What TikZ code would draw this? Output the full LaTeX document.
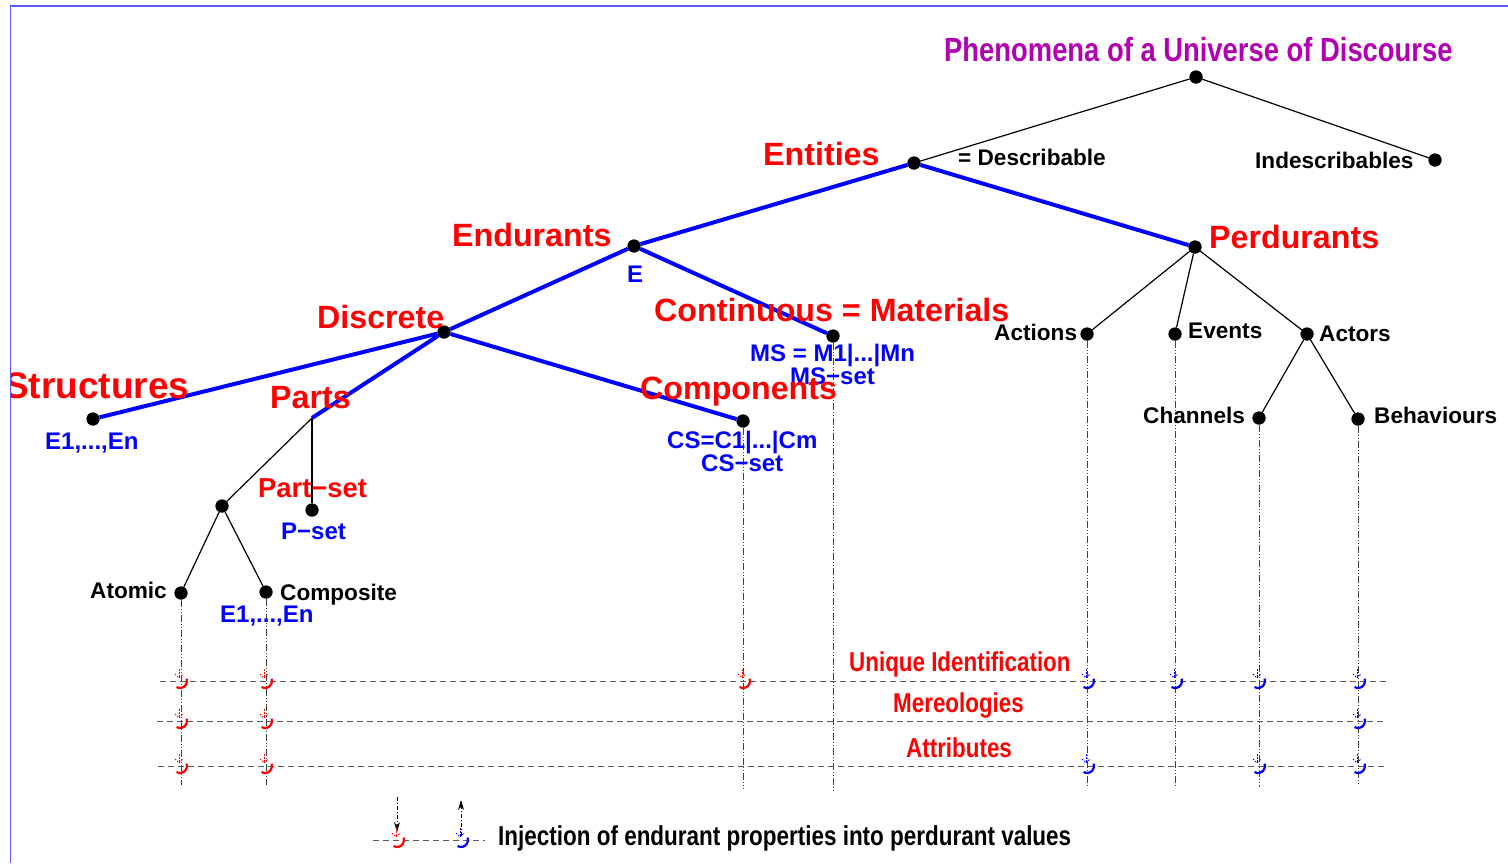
\documentclass[tikz,border=0pt]{standalone}
\usepackage{fontspec}
\setmainfont{Liberation Sans}
\newfontfamily\hb{Liberation Sans Bold}
\newfontfamily\hnb{Liberation Sans Bold}[FakeStretch=0.82]
\usetikzlibrary{arrows.meta}
\definecolor{phmag}{RGB}{176,0,176}
\definecolor{framecol}{RGB}{90,90,255}
\begin{document}
\begin{tikzpicture}[x=1pt,y=-1pt,
  dot/.style={circle,fill=black,inner sep=0pt,minimum size=13pt},
  lbl/.style={anchor=base west,inner sep=0pt},
  title/.style={lbl,text=phmag,font=\hnb\fontsize{33.4}{38}\selectfont},
  bigred/.style={lbl,text=red,font=\hb\fontsize{32.2}{36}\selectfont},
  midred/.style={lbl,text=red,font=\hnb\fontsize{27.3}{30}\selectfont},
  blk/.style={lbl,text=black,font=\hb\fontsize{22.6}{26}\selectfont},
  blu/.style={lbl,text=blue,font=\hb\fontsize{24}{28}\selectfont},
  legendtxt/.style={lbl,text=black,font=\hnb\fontsize{27.4}{30}\selectfont},
  tree/.style={line width=1.2pt},
  spine/.style={blue,line width=4pt},
  drop/.style={line width=0.9pt,gray!50!black,dash pattern=on 7pt off 2pt on 1pt off 2pt on 1pt off 2pt},
  level/.style={line width=1pt,gray!70!black,dash pattern=on 6pt off 4pt},
  inj/.pic={
    \draw[line width=2.2pt] (-3.5,6.06) arc[start angle=120,end angle=-20,radius=7];
    \draw[line width=1pt,dash pattern=on 1.5pt off 1.5pt] (-1,-12) -- (-1,-3);
    \draw[line width=1pt,dash pattern=on 1.5pt off 1.5pt] (-5,-7) -- (-1,-3) -- (3,-7);
  }
]
\useasboundingbox (0,0) rectangle (1508,863);

\begin{scope}
\clip (10.5,6) rectangle (1508,863);

% tree nodes
\node[dot] (root)   at (1196,77)  {};
\node[dot] (ent)    at (914,163)  {};
\node[dot] (indesc) at (1435,160) {};
\node[dot] (endu)   at (634,246)  {};
\node[dot] (perd)   at (1195,247) {};
\node[dot] (disc)   at (444,332)  {};
\node[dot] (cont)   at (833,336)  {};
\node[dot] (struc)  at (93,419)   {};
\coordinate (pj)    at (312,418);
\node[dot] (comp)   at (743,421)  {};
\node[dot] (pnode)  at (222,506)  {};
\node[dot] (pset)   at (312,510)  {};
\node[dot] (atom)   at (181,593)  {};
\node[dot] (compo)  at (266,592)  {};
\node[dot] (act)    at (1087,334) {};
\node[dot] (evt)    at (1175,334) {};
\node[dot] (actr)   at (1307,334) {};
\node[dot] (chan)   at (1259,418) {};
\node[dot] (behav)  at (1358,419) {};

% lower ends of the drop lines
\coordinate (atomB)  at (181,785);
\coordinate (compoB) at (266,785);
\coordinate (compB)  at (743,788);
\coordinate (contB)  at (833,790);
\coordinate (actB)   at (1087,785);
\coordinate (evtB)   at (1175,787);
\coordinate (chanB)  at (1259,787);
\coordinate (behavB) at (1358,785);

% drop lines
\foreach \n in {atom,compo,comp,cont,act,evt,chan,behav}
  \draw[drop] (\n) -- (\n B);

% property levels
\coordinate (uiL) at (160,681);  \coordinate (uiR) at (1390,681);
\coordinate (meL) at (157,721);  \coordinate (meR) at (1386,721);
\coordinate (atL) at (158,766);  \coordinate (atR) at (1387,766);
\draw[level] (uiL) -- (uiR);
\draw[level] (meL) -- (meR);
\draw[level] (atL) -- (atR);

% thin black branches
\draw[tree] (root) -- (ent);
\draw[tree] (root) -- (indesc);
\draw[tree] (perd) -- (act);
\draw[tree] (perd) -- (evt);
\draw[tree] (perd) -- (actr);
\draw[tree] (actr) -- (chan);
\draw[tree] (actr) -- (behav);
\draw[tree] (pj) -- (pnode);
\draw[tree] (pj) -- (pset);
\draw[tree] (pnode) -- (atom);
\draw[tree] (pnode) -- (compo);

% blue spine
\draw[spine] (ent) -- (endu);
\draw[spine] (ent) -- (perd);
\draw[spine] (endu) -- (disc);
\draw[spine] (endu) -- (cont);
\draw[spine] (disc) -- (struc);
\draw[spine] (disc) -- (pj.center);
\draw[spine] (disc) -- (comp);

% redraw dots on top of the lines
\foreach \n in {root,ent,indesc,endu,perd,disc,cont,struc,comp,pnode,pset,atom,compo,act,evt,actr,chan,behav}
  \fill (\n) circle[radius=6.5pt];

% labels
\node[title]  (tPhen) at (944,61)  {Phenomena of a Universe of Discourse};
\node[bigred] (tEnt)  at (763,165) {Entities};
\node[blk]    (tDesc) at (958,165) {= Describable};
\node[blk]    (tInd)  at (1255,168) {Indescribables};
\node[bigred] (tEnd)  at (452,246) {Endurants};
\node[blu]    (tE)    at (627,282) {E};
\node[bigred] (tPerd) at (1209,248) {Perdurants};
\node[bigred] (tDisc) at (317,328) {Discrete};
\node[bigred] (tCont) at (654,321) {Continuous = Materials};
\node[blu]    (tMS)   at (750,361) {MS = M1|...|Mn};
\node[blu]    (tMSs)  at (790,384) {MS−set};
\node[bigred,font=\hb\fontsize{37}{40}\selectfont] (tStr) at (4,398) {Structures};
\node[blu]    (tE1)   at (45,449)  {E1,...,En};
\node[bigred] (tParts) at (270,408) {Parts};
\node[bigred] (tComp) at (640,399) {Components};
\node[blu]    (tCS)   at (667,448) {CS=C1|...|Cm};
\node[blu]    (tCSs)  at (701,471) {CS−set};
\node[midred,font=\hb\fontsize{27.4}{30}\selectfont] (tPset) at (258,497) {Part−set};
\node[blu]    (tPs)   at (281,539) {P−set};
\node[blk]    (tAt)   at (90,598)  {Atomic};
\node[blk]    (tCo)   at (280,600) {Composite};
\node[blu]    (tE2)   at (220,622) {E1,...,En};
\node[blk]    (tAct)  at (994,340) {Actions};
\node[blk]    (tEvt)  at (1188,338) {Events};
\node[blk]    (tActr) at (1319,341) {Actors};
\node[blk]    (tChan) at (1143,423) {Channels};
\node[blk]    (tBeh)  at (1374,423) {Behaviours};
\node[midred] (tUI)   at (849,671) {Unique Identification};
\node[midred] (tMer)  at (893,712) {Mereologies};
\node[midred] (tAttr) at (906,757) {Attributes};

% injection marks on the levels
\foreach \x in {180,265} {
  \pic[red] at (\x,681) {inj};
  \pic[red] at (\x,721) {inj};
  \pic[red] at (\x,766) {inj};
}
\pic[red] at (743,681) {inj};
\foreach \x in {1087,1175,1258,1358} \pic[blue] at (\x,681) {inj};
\pic[blue] at (1358,721) {inj};
\foreach \x in {1087,1258,1358} \pic[blue] at (\x,766) {inj};

% legend
\coordinate (lgL) at (373,840);
\coordinate (lgR) at (485,840);
\draw[level,line width=0.8pt] (lgL) -- (lgR);
\coordinate (dnTop) at (397,797);
\coordinate (dnBot) at (397,832);
\coordinate (upBot) at (461,836);
\coordinate (upTop) at (461,800);
\draw[drop,black,dash pattern=on 4pt off 2pt on 1pt off 2pt,-{Stealth[length=10pt,width=6pt]}] (dnTop) -- (dnBot);
\draw[drop,black,dash pattern=on 4pt off 2pt on 1pt off 2pt,-{Stealth[length=10pt,width=6pt]}] (upBot) -- (upTop);
\pic[red] at (397,840) {inj};
\pic[blue] at (461,840) {inj};
\node[legendtxt] (tLeg) at (498,845) {Injection of endurant properties into perdurant values};
\end{scope}

% frame
\draw[framecol,line width=1.5pt] (1508,6) -- (10.5,6) -- (10.5,863);
\end{tikzpicture}
\end{document}
